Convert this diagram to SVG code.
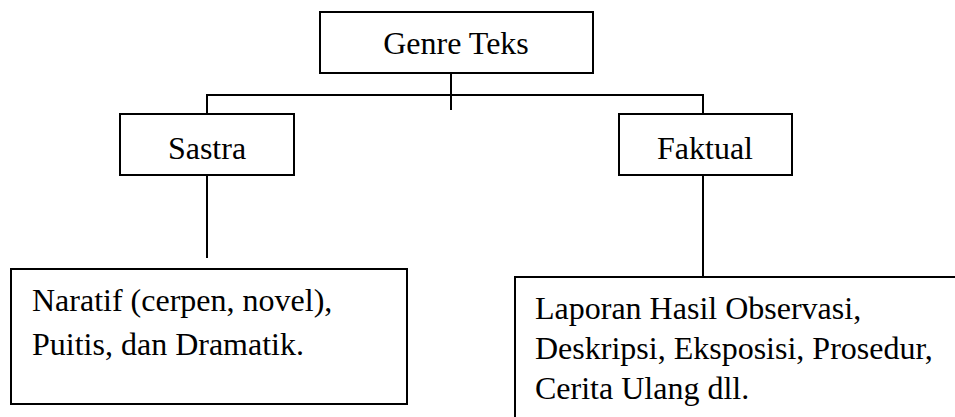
<svg xmlns="http://www.w3.org/2000/svg" width="955" height="417" viewBox="0 0 955 417">
<style>
.box{fill:#fff;stroke:#000;stroke-width:2}
.ln{stroke:#000;stroke-width:2;fill:none}
text{font-family:"Liberation Serif","Times New Roman",serif;font-size:32px;fill:#000}
.c{text-anchor:middle}
</style>
<rect width="955" height="417" fill="#fff"/>
<g id="connectors">
<path class="ln" d="M451 73V110"/>
<path class="ln" d="M207 116V95H703V116"/>
<path class="ln" d="M207 176V258"/>
<path class="ln" d="M703 176V277"/>
</g>
<g id="genre"><rect class="box" x="320" y="12" width="273" height="61"/><text class="c" x="456" y="54">Genre Teks</text></g>
<g id="sastra"><rect class="box" x="120" y="114" width="174" height="61"/><text class="c" x="207" y="159">Sastra</text></g>
<g id="faktual"><rect class="box" x="619" y="114" width="173" height="61"/><text class="c" x="705" y="159">Faktual</text></g>
<g id="sastra-list"><rect class="box" x="11" y="269" width="396" height="135"/><text x="32" y="311">Naratif (cerpen, novel),</text><text x="32" y="355">Puitis, dan Dramatik.</text></g>
<g id="faktual-list"><rect class="box" x="515" y="277" width="450" height="160"/><text x="535" y="319">Laporan Hasil Observasi,</text><text x="535" y="359">Deskripsi, Eksposisi, Prosedur,</text><text x="535" y="399">Cerita Ulang dll.</text></g>
</svg>
